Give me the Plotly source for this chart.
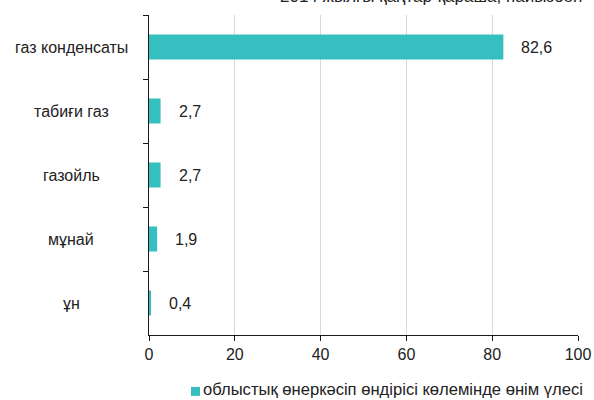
import plotly.graph_objects as go

categories = ["газ конденсаты", "табиғи газ", "газойль", "мұнай", "ұн"]
values = [82.6, 2.7, 2.7, 1.9, 0.4]
value_labels = ["82,6", "2,7", "2,7", "1,9", "0,4"]
series_name = "облыстық өнеркәсіп өндірісі көлемінде өнім үлесі"
title_text = "2014 жылғы қаңтар-қараша, пайызбен"
x_ticks = [0, 20, 40, 60, 80, 100]

FONT = "Liberation Sans, Arial, sans-serif"
TXT = "#222222"
BAR = "#36BFC1"

L, R, T, B = 149, 16, 14.5, 65
W, H = 594, 400
PW, PH = W - L - R, H - T - B


def px_x(p):
    return (p - L) / PW


def px_y(p):
    return (H - B - p) / PH


fig = go.Figure()
fig.add_trace(go.Bar(
    y=categories, x=values, orientation="h",
    marker=dict(color=BAR, line=dict(width=0)),
    name=series_name, showlegend=False,
    hoverinfo="skip",
))

annotations = []
for c, v, lab in zip(categories, values, value_labels):
    annotations.append(dict(
        x=v, y=c, xref="x", yref="y", text=lab, showarrow=False,
        xanchor="left", yanchor="middle", xshift=16,
        font=dict(family=FONT, size=16, color=TXT),
    ))
    annotations.append(dict(
        x=px_x(71), y=c, xref="paper", yref="y", text=c, showarrow=False,
        xanchor="center", yanchor="middle",
        font=dict(family=FONT, size=16, color=TXT),
    ))
# title (cut off at top, as in reference)
annotations.append(dict(
    x=px_x(584), y=px_y(-4), xref="paper", yref="paper", text=title_text,
    showarrow=False, xanchor="right", yanchor="middle",
    font=dict(family=FONT, size=17, color=TXT),
))
# legend text
annotations.append(dict(
    x=px_x(201), y=px_y(390), xref="paper", yref="paper", text=series_name,
    showarrow=False, xanchor="left", yanchor="middle",
    font=dict(family=FONT, size=16.6, color=TXT),
))

shapes = [dict(
    type="rect", xref="paper", yref="paper",
    x0=px_x(191), x1=px_x(200), y0=px_y(396), y1=px_y(387),
    fillcolor=BAR, line=dict(width=0),
)]

fig.update_layout(
    width=W, height=H,
    margin=dict(l=L, r=R, t=T, b=B, autoexpand=False),
    paper_bgcolor="white", plot_bgcolor="white",
    font=dict(family=FONT, size=16, color=TXT),
    bargap=0.61,
    showlegend=False,
    annotations=annotations,
    shapes=shapes,
    xaxis=dict(
        range=[0, 100], tickvals=x_ticks, ticktext=[str(t) for t in x_ticks],
        showgrid=True, gridcolor="#D9D9D9", gridwidth=1,
        showline=True, linecolor="#1A1A1A", linewidth=1,
        ticks="outside", ticklen=5, tickcolor="#1A1A1A",
        zeroline=False, tickfont=dict(family=FONT, size=16, color=TXT),
        automargin=False, fixedrange=True,
    ),
    yaxis=dict(
        categoryorder="array", categoryarray=categories, autorange="reversed",
        showline=True, linecolor="#1A1A1A", linewidth=1,
        ticks="outside", ticklen=5, tickcolor="#1A1A1A", tickson="boundaries",
        showgrid=False, zeroline=False, showticklabels=False,
        automargin=False, fixedrange=True,
    ),
)

fig.write_html(
    "out.html",
    config={"displayModeBar": False},
    post_script="document.body.style.margin='0';document.body.style.overflow='hidden';",
)
